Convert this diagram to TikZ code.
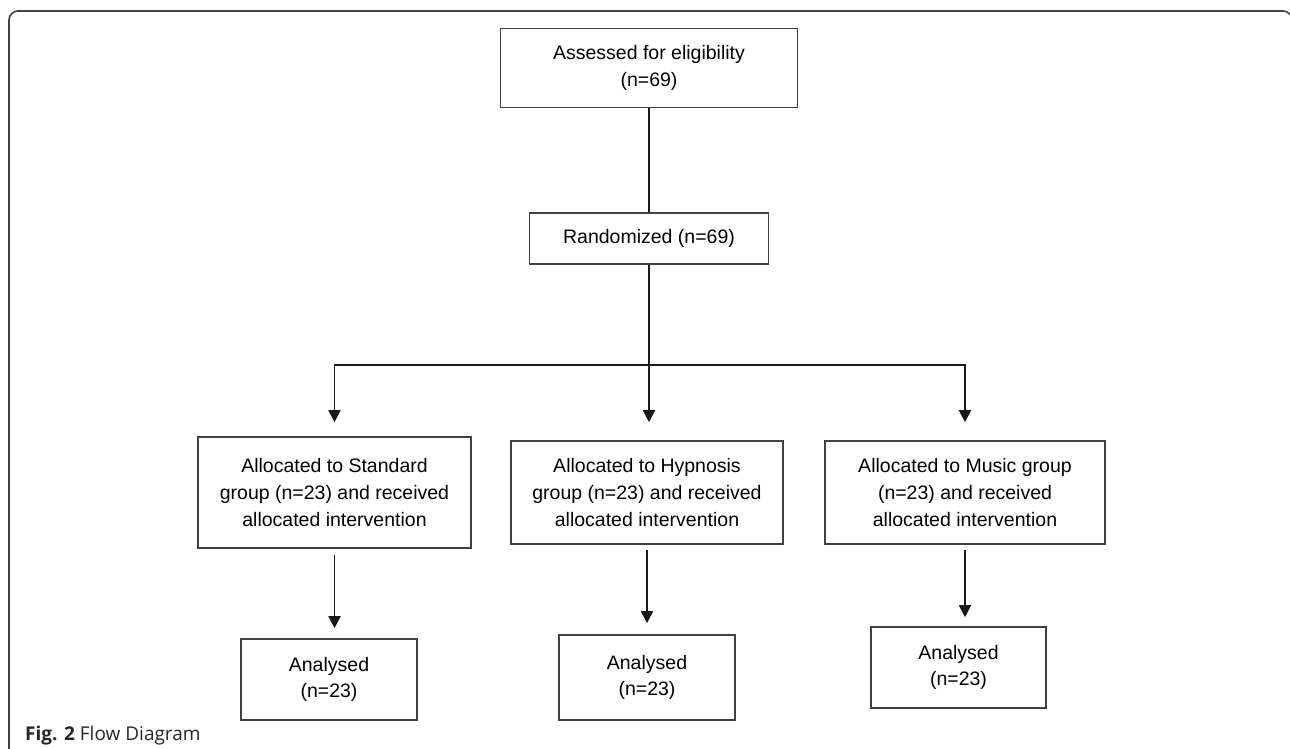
\documentclass[tikz,border=0pt]{standalone}
\usepackage{fontspec}
\setmainfont{Liberation Sans}
\newfontfamily\captionfont{Open Sans}
\usepackage{tikz}
\usetikzlibrary{arrows.meta}
\newcommand{\boxcolor}{black!75}
\newcommand{\thickness}{1.6pt}
\tikzset{
  box/.style={draw=\boxcolor, line width=\thickness, align=center, inner sep=0pt,
    font=\fontsize{19.5}{26.6}\selectfont},
  link/.style={draw=black!90, line width=1.8pt},
  arrow/.style={link, -{Triangle[length=12pt,width=12pt]}},
}

\begin{document}
\begin{tikzpicture}[x=1pt,y=-1pt]
\useasboundingbox (0,0) rectangle (1290,748);
\draw[\boxcolor, line width=\thickness, rounded corners=9pt] (9,770) -- (9,11) -- (1292,11) -- (1292,770);
\node[box, minimum width=297, minimum height=79] (1) at (649,68) {Assessed for eligibility\\(n=69)};
\node[box, minimum width=239, minimum height=51] (2) at (649,238.5) {Randomized (n=69)};
\node[box, minimum width=273, minimum height=111] (3) at (334.5,492.5) {Allocated to Standard\\group (n=23) and received\\allocated intervention};
\node[box, minimum width=272, minimum height=103] (4) at (647,492.5) {Allocated to Hypnosis\\group (n=23) and received\\allocated intervention};
\node[box, minimum width=280, minimum height=103] (5) at (965,492.5) {Allocated to Music group\\(n=23) and received\\allocated intervention};
\node[box, minimum width=176, minimum height=81] (6) at (329,679.5) {Analysed\\(n=23)};
\node[box, minimum width=176, minimum height=85] (7) at (647,677.5) {Analysed\\(n=23)};
\node[box, minimum width=175, minimum height=81] (8) at (958.5,667.5) {Analysed\\(n=23)};
\coordinate (split) at (649,365);
%top
\draw[link] (1) -- (2);
\draw[link] (2) -- (split);
%allocation
\draw[arrow, shorten >=14pt] (split) -| (3);
\draw[arrow, shorten >=18pt] (split) -- (split |- 4.north);
\draw[arrow, shorten >=18pt] (split) -| (5);
%analysis
\draw[arrow, shorten <=6pt, shorten >=10pt] (3.south) -- (3.south |- 6.north);
\draw[arrow, shorten <=5pt, shorten >=11pt] (4.south) -- (4.south |- 7.north);
\draw[arrow, shorten <=5pt, shorten >=9pt] (5.south) -- (5.south |- 8.north);
\node[anchor=base west, inner sep=0pt, text=black!85, font=\captionfont\fontsize{19}{22}\selectfont] (caption) at (25,740) {\textbf{Fig. 2} Flow Diagram};
\end{tikzpicture}
\end{document}
